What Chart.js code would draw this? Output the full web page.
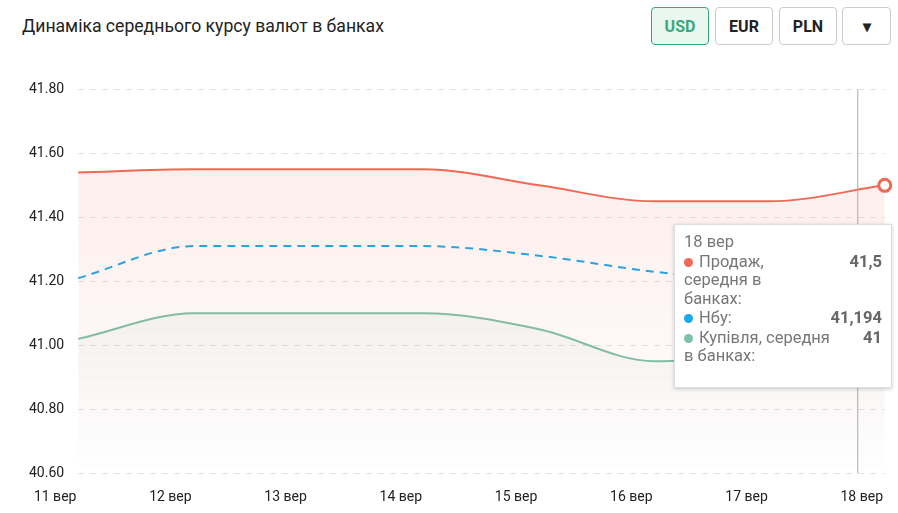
<!DOCTYPE html>
<html><head><meta charset="utf-8">
<script src="https://cdn.jsdelivr.net/npm/chart.js@4"></script>
<style>
body{margin:0;width:898px;height:513px;font-family:Roboto,Arial,sans-serif;background:#fff;position:relative;overflow:hidden}
#title{position:absolute;left:22px;top:16px;font-size:17.6px;color:#222}
.btn{position:absolute;top:7px;height:38px;border:1px solid #ccc;border-radius:4px;font-size:16px;font-weight:bold;display:flex;align-items:center;justify-content:center;color:#222;box-sizing:border-box}
#wrap{position:absolute;left:0;top:67px;width:898px;height:450px;overflow:hidden}
#tt{position:absolute;left:674px;top:224px;width:218px;height:164px;background:#fff;border:1px solid #ddd;box-shadow:0 1px 4px rgba(0,0,0,.2);font-size:16.5px;color:#777;padding:8px 9px;box-sizing:border-box;line-height:18.5px}
.row{display:flex;justify-content:space-between;margin-top:1px}
.row b{color:#666}
.dot{display:inline-block;width:9px;height:9px;border-radius:50%;margin-right:6px}
</style></head><body>
<div id="title">Динаміка середнього курсу валют в банках</div>
<div class="btn" style="left:651px;width:58px;background:#eaf6f0;border-color:#3aa876;color:#3aa876">USD</div>
<div class="btn" style="left:715px;width:58px">EUR</div>
<div class="btn" style="left:779px;width:58px">PLN</div>
<div class="btn" style="left:842px;width:49px">&#9662;</div>
<div id="wrap"><canvas id="c" width="914" height="447"></canvas></div>
<div id="tt"></div>
<script>
const labels=['11 вер','12 вер','13 вер','14 вер','15 вер','16 вер','17 вер','18 вер'];
const sell=[41.54,41.55,41.55,41.55,41.50,41.45,41.45,41.50];
const nbu=[41.21,41.31,41.31,41.31,41.28,41.23,41.20,41.194];
const buy=[41.02,41.10,41.10,41.10,41.05,40.95,40.97,41.00];
const yTicks=[40.6,40.8,41.0,41.2,41.4,41.6,41.8];
const ctx=document.getElementById('c');
function grad(a,b){return (c2)=>{const ch=c2.chart;const ca=ch.chartArea;if(!ca)return a;const g=ch.ctx.createLinearGradient(0,ca.top,0,ca.bottom);g.addColorStop(0,a);g.addColorStop(1,b);return g;}}
const vline={id:'vl',afterDatasetsDraw(ch){const x=ch.scales.x.getPixelForValue(7)-27;const c=ch.ctx;c.save();c.strokeStyle='#aaa';c.lineWidth=1;c.beginPath();c.moveTo(x,ch.chartArea.top);c.lineTo(x,ch.chartArea.bottom);c.stroke();
const p=ch.getDatasetMeta(0).data[7];c.beginPath();c.arc(p.x,p.y,6,0,7);c.fillStyle='#fff';c.fill();c.lineWidth=3;c.strokeStyle='#ee6a55';c.stroke();c.restore();}};
new Chart(ctx,{type:'line',data:{labels,datasets:[
{data:sell,borderColor:'#ee6a55',borderWidth:2,pointRadius:0,cubicInterpolationMode:'monotone',fill:'start',backgroundColor:grad('rgba(238,106,85,0.14)','rgba(238,106,85,0.0)')},
{data:nbu,borderColor:'#1aa7ec',borderWidth:2,borderDash:[8,6],pointRadius:0,cubicInterpolationMode:'monotone',fill:false},
{data:buy,borderColor:'#7cc2a6',borderWidth:2,pointRadius:0,cubicInterpolationMode:'monotone',fill:'start',backgroundColor:grad('rgba(60,120,100,0.12)','rgba(60,120,100,0.0)')}
]},options:{responsive:false,animation:false,events:[],layout:{padding:{left:15,right:1,top:7,bottom:0}},
plugins:{legend:{display:false},tooltip:{enabled:false}},
scales:{x:{offset:false,grid:{display:false},border:{display:false},ticks:{labelOffset:-23,color:'#222',font:{size:14,family:'Roboto'},maxRotation:0,autoSkip:false,padding:8}},
y:{min:40.6,max:41.8,afterBuildTicks:a=>{a.ticks=yTicks.map(v=>({value:v}))},grid:{color:'#e3e3e3',drawTicks:false},border:{display:false,dash:[6,6]},ticks:{color:'#222',font:{size:14,family:'Roboto'},padding:14,callback:v=>v.toFixed(2)}}}},plugins:[vline]});
document.getElementById('tt').innerHTML='<div>18 вер</div>'+
'<div class="row"><span><span class="dot" style="background:#ee6a55"></span>Продаж,<br>середня в<br>банках:</span><b>41,5</b></div>'+
'<div class="row"><span><span class="dot" style="background:#1aa7ec"></span>Нбу:</span><b>41,194</b></div>'+
'<div class="row"><span><span class="dot" style="background:#7cc2a6"></span>Купівля, середня<br>в банках:</span><b>41</b></div>';
</script></body></html>
